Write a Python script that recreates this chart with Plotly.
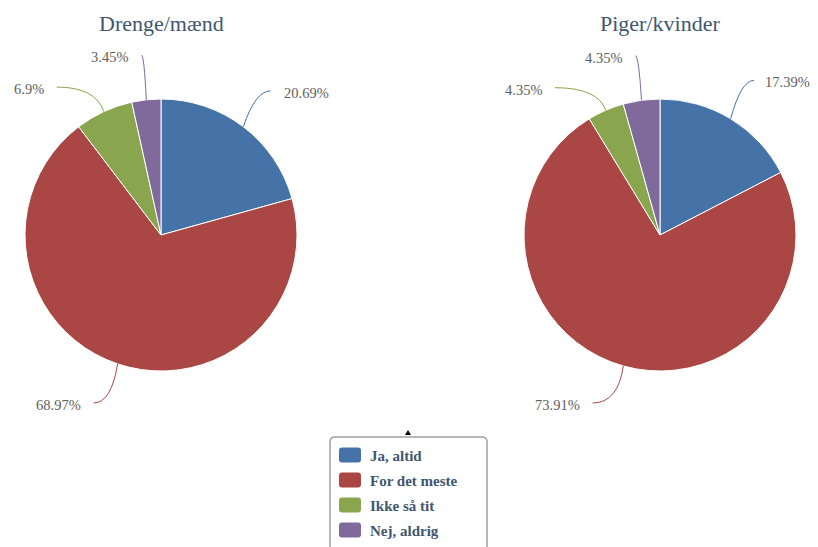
import math
import plotly.graph_objects as go

# page body has an 8px margin; figure is sized to fit the window
OFF = 8
W, H = 818 - OFF, 547 - OFF
VIS_RIGHT = 808  # keep outside labels within the visible window

categories = ["Ja, altid", "For det meste", "Ikke så tit", "Nej, aldrig"]
boys = [20.69, 68.97, 6.9, 3.45]
girls = [17.39, 73.91, 4.35, 4.35]
titles = ["Drenge/mænd", "Piger/kvinder"]
colors = ["#4572A7", "#AA4643", "#89A54E", "#80699B"]

FONT = "Liberation Serif, Times New Roman, serif"
TITLE_COLOR = "#3E576F"
LABEL_COLOR = "#606060"


def px(x):
    return (x - OFF) / W


def py(y):
    return 1 - (y - OFF) / H


# pie geometry in window pixels
pies = [dict(cx=161, cy=235, r=136), dict(cx=660, cy=235, r=136)]

fig = go.Figure()
shapes = []
annotations = []

for values, title, g in zip([boys, girls], titles, pies):
    cx, cy, r = g["cx"], g["cy"], g["r"]
    fig.add_trace(go.Pie(
        labels=categories, values=values, sort=False, direction="clockwise",
        rotation=0, textinfo="none", showlegend=False,
        marker=dict(colors=colors, line=dict(color="white", width=1)),
        domain=dict(x=[px(cx - r), px(cx + r)], y=[py(cy + r), py(cy - r)]),
        hovertemplate="%{label}: %{value}%<extra></extra>",
    ))
    annotations.append(dict(x=px(cx), y=py(24), xref="paper", yref="paper",
                            text=title, showarrow=False, xanchor="center", yanchor="middle",
                            font=dict(family=FONT, size=22, color=TITLE_COLOR)))
    total = sum(values)
    cum = 0
    items = []
    R = r + 45
    for i, v in enumerate(values):
        mid = (cum + v / 2) / total * 2 * math.pi
        cum += v
        side = 1 if math.sin(mid) >= 0 else -1
        ly = cy - R * math.cos(mid)
        ly = min(ly, cy + r + 32)
        items.append(dict(i=i, v=v, mid=mid, side=side, ly=ly))
    for side in (1, -1):
        s = sorted([it for it in items if it["side"] == side], key=lambda t: t["ly"])
        for a, b in zip(s, s[1:]):
            if b["ly"] - a["ly"] < 32:
                b["ly"] = a["ly"] + 32
    for it in items:
        mid, side, ly = it["mid"], it["side"], it["ly"]
        lx = cx + side * math.sqrt(max(R * R - (ly - cy) ** 2, 0))
        p0x, p0y = cx + r * math.sin(mid), cy - r * math.cos(mid)
        bx = cx + (r + 20) * math.sin(mid)
        path = (f"M {px(lx)} {py(ly)} Q {px(bx)} {py(ly)} {px(p0x)} {py(p0y)}")
        shapes.append(dict(type="path", path=path, xref="paper", yref="paper",
                           line=dict(color=colors[it["i"]], width=1)))
        text = f"{it['v']:g}%"
        tx = lx + side * 11
        if side > 0:
            tx = min(tx, VIS_RIGHT - 7.5 * len(text))
        annotations.append(dict(x=px(tx), y=py(ly + 2), xref="paper", yref="paper",
                                text=text, showarrow=False,
                                xanchor="left" if side > 0 else "right", yanchor="middle",
                                font=dict(family=FONT, size=14.5, color=LABEL_COLOR)))

# legend box (manual)
lx0, lx1, ly0, ly1, rad = 330, 487, 437, 575, 5
legend_path = (f"M {px(lx0)} {py(ly1)} L {px(lx0)} {py(ly0 + rad)} "
               f"Q {px(lx0)} {py(ly0)} {px(lx0 + rad)} {py(ly0)} "
               f"L {px(lx1 - rad)} {py(ly0)} Q {px(lx1)} {py(ly0)} {px(lx1)} {py(ly0 + rad)} "
               f"L {px(lx1)} {py(ly1)}")
shapes.append(dict(type="path", path=legend_path, xref="paper", yref="paper",
                   line=dict(color="#A0A0A0", width=1.5), fillcolor="white", layer="below"))
for k, (cat, col) in enumerate(zip(categories, colors)):
    yc = 455 + 25 * k
    x0, x1, y0, y1, q = 339, 361, yc - 7.5, yc + 7.5, 3
    sq = (f"M {px(x0 + q)} {py(y0)} L {px(x1 - q)} {py(y0)} Q {px(x1)} {py(y0)} {px(x1)} {py(y0 + q)} "
          f"L {px(x1)} {py(y1 - q)} Q {px(x1)} {py(y1)} {px(x1 - q)} {py(y1)} "
          f"L {px(x0 + q)} {py(y1)} Q {px(x0)} {py(y1)} {px(x0)} {py(y1 - q)} "
          f"L {px(x0)} {py(y0 + q)} Q {px(x0)} {py(y0)} {px(x0 + q)} {py(y0)} Z")
    shapes.append(dict(type="path", path=sq, xref="paper", yref="paper",
                       fillcolor=col, line=dict(color=col, width=0)))
    annotations.append(dict(x=px(368), y=py(yc + 1), xref="paper", yref="paper",
                            text=f"<b>{cat}</b>",
                            showarrow=False, xanchor="left", yanchor="middle",
                            font=dict(family=FONT, size=15, color=TITLE_COLOR)))

# small marker above the legend box
shapes.append(dict(type="path", xref="paper", yref="paper",
                   path=f"M {px(405)} {py(435)} L {px(411)} {py(435)} L {px(408)} {py(430)} Z",
                   fillcolor="black", line=dict(color="black", width=0)))

fig.update_layout(
    width=W, height=H,
    margin=dict(l=0, r=0, t=0, b=0),
    paper_bgcolor="white", plot_bgcolor="white",
    showlegend=False,
    shapes=shapes, annotations=annotations,
)

fig.write_html("out.html")
